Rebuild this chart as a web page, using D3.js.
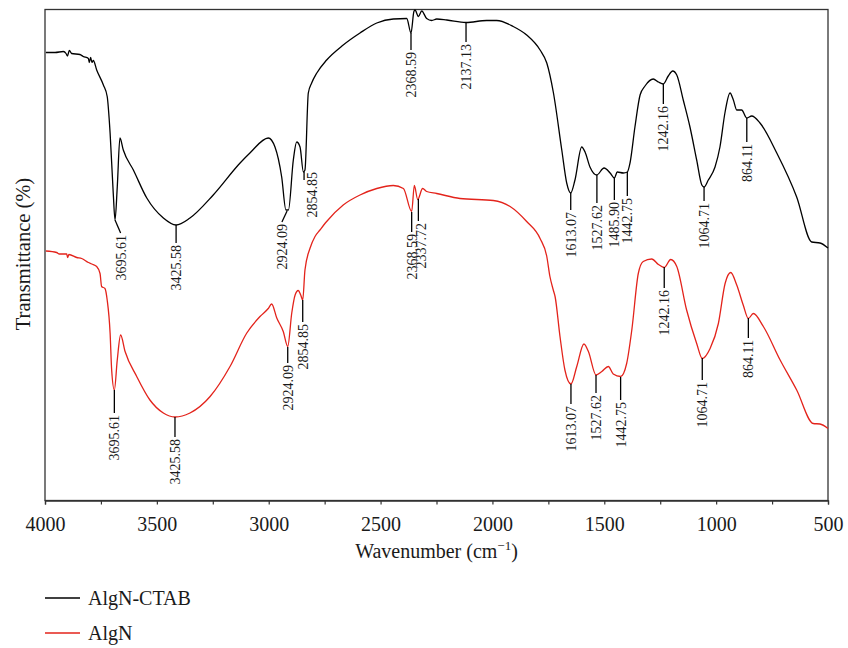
<!DOCTYPE html>
<html>
<head>
<meta charset="utf-8">
<script src="https://cdn.jsdelivr.net/npm/d3@7"></script>
<style>
  html, body { margin: 0; padding: 0; background: #fff; }
  svg { display: block; }
  text { font-family: "Liberation Serif", "DejaVu Serif", serif; fill: #1a1a1a; }
</style>
</head>
<body>
<svg id="chart" width="848" height="648"></svg>
<script>
// ---- Data (wavenumber cm^-1, relative transmittance) ----
const seriesNames = ["AlgN-CTAB", "AlgN"];
const majorTicks = [4000, 3500, 3000, 2500, 2000, 1500, 1000, 500];
const minorTicks = [3750, 3250, 2750, 2250, 1750, 1250, 750];

const algnCtab = [
  [3996,89.5],[3955,89.5],[3918,89.7],[3906,89.3],[3900,88.8],[3891,89.9],[3881,89.3],[3844,89.1],
  [3829,88.7],[3806,88.3],[3802,87.5],[3796,88.5],[3790,87.5],[3784,87.9],
  [3769,86],[3739,83],[3722,80.7],[3709,73.4],[3695,61.4],[3687,56],[3677,62.6],[3665,72.4],
  [3650,70],[3605,66],[3545,60.4],[3471,56.4],[3414,55],[3352,56.4],[3248,61],[3128,67.4],
  [3084,69.4],[3002,72.4],[2972,70.6],[2942,64.6],[2923,58],[2912,58],[2890,68],[2875,71.6],
  [2860,70.6],[2845,65.6],[2838,66],[2823,81.4],[2808,83.4],[2785,85.4],[2741,88],[2667,91],
  [2592,93.4],[2517,95.4],[2443,96.2],[2383,96.3],[2364,93.4],[2351,97.7],[2346,98],[2331,96.7],
  [2316,97.8],[2294,96.3],[2271,95.9],[2249,96.2],[2204,96],[2118,95.5],[2026,95.9],[1981,95.9],
  [1907,94.7],[1847,93],[1787,90],[1757,87.4],[1728,81.6],[1690,70],[1668,63.4],[1650,61.4],
  [1631,64],[1601,70.6],[1586,69.6],[1564,66.6],[1534,65],[1501,66.4],[1474,65.4],[1455,64.4],
  [1442,65.6],[1415,65.4],[1397,65.6],[1385,67.4],[1363,74.6],[1340,81],[1318,82.8],[1281,84.2],
  [1258,83.6],[1236,83.2],[1214,84.8],[1194,85.8],[1176,85],[1147,80],[1117,74.6],[1087,68],
  [1064,63],[1054,62.6],[1035,64],[1005,66.6],[983,70.6],[960,77.6],[938,81.4],[923,80],
  [908,78],[886,78],[863,76.4],[841,76.8],[804,75.4],[729,69.4],[640,60.6],[573,51.6],
  [536,51.4],[500,50.4]
];

const algn = [
  [3996,49.8],[3948,49.5],[3936,49.2],[3903,49.2],[3899,48.5],[3893,49.1],[3858,48.5],[3836,48.3],
  [3806,47.5],[3791,47.2],[3769,46.7],[3754,45.3],[3747,42.7],[3732,42.3],[3722,40],[3709,33.4],
  [3702,26],[3690,22],[3677,28],[3662,33],[3642,29.7],
  [3590,24.7],[3531,20],[3471,17.4],[3419,16.6],[3352,17.4],[3262,20.7],[3173,26.7],[3098,33.4],
  [3039,36.7],[3002,38.3],[2987,39.2],[2964,36.4],[2935,33.7],[2915,30.7],[2897,37.4],[2882,41],
  [2868,41.9],[2857,41],[2848,40],[2838,46],[2815,50.4],[2793,52.7],[2771,54],[2741,55.7],
  [2667,59],[2592,61],[2517,62.3],[2443,62.9],[2398,62.3],[2361,57.7],[2349,62.9],[2334,60.1],
  [2312,62.3],[2294,61.7],[2249,61.3],[2145,60.3],[1996,59.9],[1921,58.7],[1847,55.7],[1787,52.3],
  [1757,48.7],[1743,44.7],[1728,42],[1720,40.7],[1698,32.7],[1676,26],[1649,23.2],[1623,26.7],
  [1591,31.2],[1571,29.7],[1537,25],[1511,25.7],[1482,26.7],[1460,25.2],[1427,24.7],[1400,27.3],
  [1377,34],[1348,45.3],[1326,47.7],[1288,48.2],[1258,47.1],[1232,46.5],[1203,48.1],[1176,46.7],
  [1132,38],[1087,31.3],[1062,28.3],[1027,30.3],[990,35.3],[960,43.3],[935,45.5],[908,43],
  [879,39],[856,36.3],[834,37.3],[789,34.7],[714,28],[640,22],[566,15.3],[536,15.2],[500,14.3]
];

// Peak annotations: label, peak (wn,t), leader end (wn2,t2), optional text anchor
const ctabPeaks = [
  {label:"3695.61", wn:3687, t:56,   wn2:3662, t2:53.4},
  {label:"3425.58", wn:3414, t:55,   t2:51.4},
  {label:"2924.09", wn:2918, t:57.8, wn2:2941, t2:55.6},
  {label:"2854.85", wn:2842, t:65.6, t2:64, textWn:2806, textT:65.6},
  {label:"2368.59", wn:2364, t:93.4, t2:90},
  {label:"2137.13", wn:2118, t:95.6, t2:91.6},
  {label:"1613.07", wn:1650, t:61.4, t2:58},
  {label:"1527.62", wn:1533, t:65,   t2:59.4},
  {label:"1485.90", wn:1455, t:64.4, t2:60},
  {label:"1442.75", wn:1397, t:65.6, t2:60.8},
  {label:"1242.16", wn:1236, t:83.2, t2:79.2},
  {label:"1064.71", wn:1054, t:62.6, t2:59.8},
  {label:"864.11",  wn:863,  t:76.4, t2:71.6}
];
const algnPeaks = [
  {label:"3695.61", wn:3690, t:22,   t2:17.4},
  {label:"3425.58", wn:3419, t:16.6, t2:12.6},
  {label:"2924.09", wn:2915, t:30.6, t2:27.4},
  {label:"2854.85", wn:2848, t:40,   t2:35.6},
  {label:"2368.59", wn:2361, t:57.6, t2:53.6},
  {label:"2337.72", wn:2331, t:60.2, t2:55.8, textWn:2318},
  {label:"1613.07", wn:1649, t:23.2, t2:19.2},
  {label:"1527.62", wn:1537, t:25,   t2:21.4},
  {label:"1442.75", wn:1427, t:24.6, t2:20},
  {label:"1242.16", wn:1232, t:46.6, t2:42.4},
  {label:"1064.71", wn:1062, t:28.4, t2:24},
  {label:"864.11",  wn:856,  t:36.4, t2:32.4}
];

// ---- Layout ----
const colors = ["#000000", "#e3231b"];
const plot = {left: 45, right: 828, top: 10, bottom: 500};
const svg = d3.select("#chart");

const x = d3.scaleLinear().domain([4000, 500]).range([plot.left, plot.right]);
const y = d3.scaleLinear().domain([0, 98]).range([plot.bottom, plot.top]);

// frame
svg.append("rect")
  .attr("x", plot.left).attr("y", plot.top - 0.5)
  .attr("width", plot.right - plot.left).attr("height", plot.bottom - plot.top + 1)
  .attr("fill", "none").attr("stroke", "#333").attr("stroke-width", 1.3);

// x axis
const xAxis = svg.append("g").attr("transform", `translate(0,${plot.bottom + 0.5})`)
  .call(d3.axisBottom(x).tickValues(majorTicks).tickFormat(d3.format("d")).tickSize(4).tickPadding(12));
svg.append("g").attr("transform", `translate(0,${plot.bottom + 0.5})`)
  .call(d3.axisBottom(x).tickValues(minorTicks).tickFormat("").tickSize(4))
  .select(".domain").remove();
svg.selectAll(".tick line").attr("stroke", "#333").attr("stroke-width", 1.2);
xAxis.select(".domain").attr("stroke", "#333").attr("stroke-width", 1.3);
xAxis.selectAll(".tick text").attr("font-size", 20)
  .attr("font-family", "'Liberation Serif', serif").attr("fill", "#1a1a1a");

// axis titles
const xt = svg.append("text").attr("x", (plot.left + plot.right) / 2).attr("y", 558)
  .attr("text-anchor", "middle").attr("font-size", 20);
xt.append("tspan").text("Wavenumber (cm");
xt.append("tspan").attr("font-size", 13).attr("dy", -8).text("\u22121");
xt.append("tspan").attr("dy", 8).text(")");

svg.append("text")
  .attr("transform", `translate(30,254) rotate(-90)`)
  .attr("text-anchor", "middle").attr("font-size", 20.5)
  .text("Transmittance (%)");

// curves
const line = d3.line().x(d => x(d[0])).y(d => y(d[1])).curve(d3.curveMonotoneX);
[algnCtab, algn].forEach((data, i) => {
  svg.append("path").datum(data)
    .attr("fill", "none").attr("stroke", colors[i]).attr("stroke-width", 1.3)
    .attr("stroke-linejoin", "round").attr("d", line);
});

// annotations
function annotate(peaks) {
  const g = svg.append("g");
  peaks.forEach(p => {
    const wn2 = p.wn2 !== undefined ? p.wn2 : p.wn;
    g.append("line")
      .attr("x1", x(p.wn)).attr("y1", y(p.t))
      .attr("x2", x(wn2)).attr("y2", y(p.t2))
      .attr("stroke", "#000").attr("stroke-width", 1.3);
    const tx = x(p.textWn !== undefined ? p.textWn : wn2);
    const ty = p.textT !== undefined ? y(p.textT) : y(p.t2) + 2;
    g.append("text")
      .attr("transform", `translate(${tx},${ty}) rotate(-90)`)
      .attr("text-anchor", "end").attr("dy", "0.35em")
      .attr("font-size", 14).attr("fill", "#111")
      .text(p.label);
  });
}
annotate(ctabPeaks);
annotate(algnPeaks);

// legend
const legend = svg.append("g");
seriesNames.forEach((name, i) => {
  const ly = 598 + i * 35;
  legend.append("line").attr("x1", 45).attr("x2", 80).attr("y1", ly).attr("y2", ly)
    .attr("stroke", colors[i]).attr("stroke-width", 1.3);
  legend.append("text").attr("x", 88).attr("y", ly + 7).attr("font-size", 20).text(name);
});
</script>
</body>
</html>
